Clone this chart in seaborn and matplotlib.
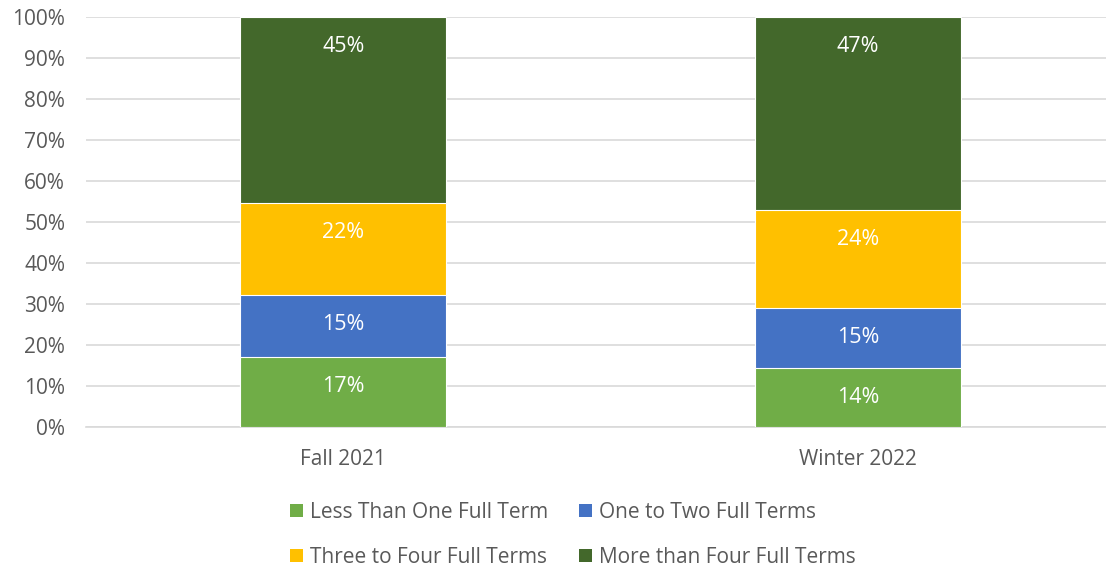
import numpy as np
import pandas as pd
import seaborn as sns
import matplotlib.pyplot as plt
from matplotlib.patches import Patch

# data (percent)
terms = ["Fall 2021", "Winter 2022"]
groups = ["Less Than One Full Term", "One to Two Full Terms",
          "Three to Four Full Terms", "More than Four Full Terms"]
less_than_one = [17.1, 14.4]
one_to_two = [15.1, 14.6]
three_to_four = [22.4, 23.9]
more_than_four = [45.4, 47.1]

colors = ["#70AD47", "#4472C4", "#FFC000", "#43682B"]
text_gray = "#595959"

sns.set_theme(style="white")
plt.rcParams["font.family"] = ["Open Sans", "DejaVu Sans"]

series = [less_than_one, one_to_two, three_to_four, more_than_four]
cum = np.cumsum(np.array(series), axis=0)

fig = plt.figure(figsize=(11.06, 5.69), dpi=100)
# plot area runs a little past the right edge, as in the cropped original
ax = fig.add_axes([86 / 1106, 1 - 427 / 569, 1029 / 1106, 410 / 569])

# draw cumulative layers from the top down so each segment shows
for i in range(len(groups) - 1, -1, -1):
    df = pd.DataFrame({"term": terms, "value": cum[i]})
    sns.barplot(data=df, x="term", y="value", color=colors[i], width=0.4,
                edgecolor="white", linewidth=0.8, saturation=1, ax=ax, zorder=3)

# labels sit a fixed distance below each segment's top
for i, vals in enumerate(series):
    for j, v in enumerate(vals):
        ax.text(j, cum[i][j] - 7.2, f"{round(v):.0f}%", ha="center",
                va="center", color="white", fontsize=15.5, zorder=5)

ax.set_xlim(-0.5, 1.5)
ax.set_ylim(0, 100)
ax.set_yticks(range(0, 101, 10))
ax.set_yticklabels([f"{t}%" for t in range(0, 101, 10)])
ax.yaxis.grid(True, color="#D9D9D9", linewidth=1.2, zorder=0)
ax.set_axisbelow(True)
for s in ["top", "right", "left"]:
    ax.spines[s].set_visible(False)
ax.spines["bottom"].set_color("#D9D9D9")
ax.spines["bottom"].set_linewidth(1.2)
ax.set_xlabel("")
ax.set_ylabel("")
ax.tick_params(axis="both", colors=text_gray, labelsize=15, length=0)
ax.tick_params(axis="x", pad=16)
ax.tick_params(axis="y", pad=15)

# legend filled row by row, like the original
order = [0, 2, 1, 3]
handles = [Patch(facecolor=colors[k], edgecolor="none") for k in order]
labels = [groups[k] for k in order]
fig.legend(handles, labels, ncol=2, loc="center", bbox_to_anchor=(573 / 1106, 1 - 535 / 569),
           frameon=False, fontsize=15, labelcolor=text_gray, handlelength=0.6,
           handleheight=0.6, handletextpad=0.35, columnspacing=1.5, labelspacing=1.15)

fig.savefig("out.png", dpi=100)
